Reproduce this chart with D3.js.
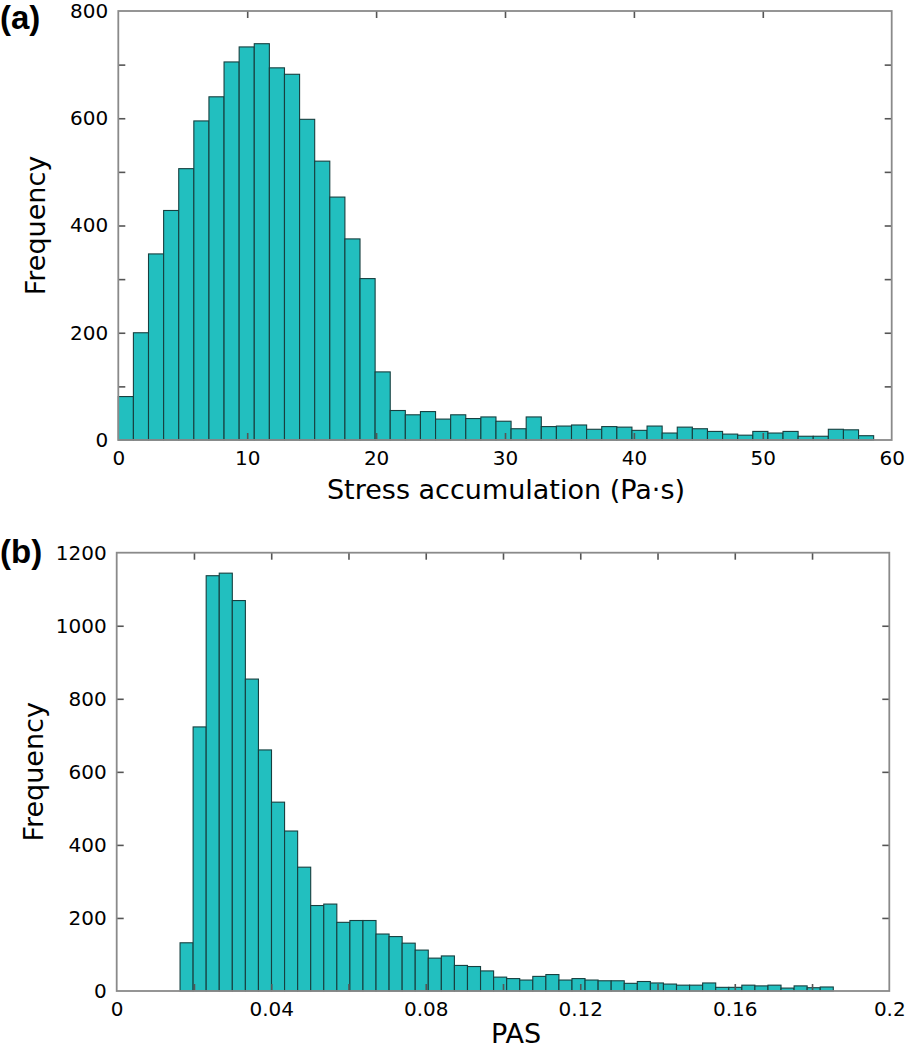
<!DOCTYPE html>
<html>
<head>
<meta charset="utf-8">
<script src="https://cdn.jsdelivr.net/npm/d3@7/dist/d3.min.js"></script>
<style>
  html, body { margin: 0; padding: 0; background: #fff; }
  svg { display: block; }
  .tick text { font-family: "DejaVu Sans", Verdana, sans-serif; }
</style>
</head>
<body>
<svg id="chart" width="907" height="1050"></svg>
<script>
// ---- Panel (a): stress accumulation histogram ----
const stressBinStart = 0;
const stressBinWidth = 1.172;
const stressCounts = [81,200,347,428,506,595,640,705,733,739,
  694,682,598,520,453,375,301,127,55,47,
  53,39,47,40,43,35,21,43,25,26,
  28,20,25,24,18,26,13,24,21,16,
  11,9,16,13,16,7,7,20,19,8];
const stressXTicks = [0,10,20,30,40,50,60];
const stressYTicks = [0,100,200,300,400,500,600,700,800];
const stressYLabels = [0,200,400,600,800];

// ---- Panel (b): PAS histogram ----
const pasBinStart = 0.0164;
const pasBinWidth = 0.003382;
const pasCounts = [132,723,1137,1144,1069,854,660,517,438,339,
  234,238,188,193,193,156,149,131,112,90,
  96,70,67,55,38,34,30,40,45,30,
  34,30,28,28,21,26,22,19,16,16,
  22,10,10,16,14,16,8,14,9,11];
const pasXTicks = [0,0.02,0.04,0.06,0.08,0.1,0.12,0.14,0.16,0.18,0.2];
const pasXLabels = [0,0.04,0.08,0.12,0.16,0.2];
const pasYTicks = [0,200,400,600,800,1000,1200];

const svg = d3.select("#chart");
const FONT = "'DejaVu Sans', Verdana, sans-serif";
const BAR_FILL = "#22bfbf";
const BAR_STROKE = "#173f3f";
const FRAME = "#8a8a8a";
const TICKC = "#555";

function panel(cfg) {
  const g = svg.append("g");
  const x = d3.scaleLinear().domain(cfg.xDomain).range([cfg.left, cfg.right]);
  const y = d3.scaleLinear().domain(cfg.yDomain).range([cfg.bottom, cfg.top]);

  // bars
  g.append("g").selectAll("rect")
    .data(cfg.counts)
    .join("rect")
    .attr("x", (d, i) => x(cfg.binStart + i * cfg.binWidth))
    .attr("width", (d, i) => x(cfg.binStart + (i + 1) * cfg.binWidth) - x(cfg.binStart + i * cfg.binWidth))
    .attr("y", d => y(d))
    .attr("height", d => y(0) - y(d))
    .attr("fill", BAR_FILL)
    .attr("stroke", BAR_STROKE)
    .attr("stroke-width", 1.1);

  const isLabX = v => cfg.xLabels.some(l => Math.abs(l - v) < 1e-9);
  const isLabY = v => cfg.yLabels.some(l => Math.abs(l - v) < 1e-9);
  const tickLen = 7;

  // bottom axis (inward ticks + labels)
  const xb = g.append("g").attr("transform", `translate(0,${cfg.bottom})`)
    .call(d3.axisBottom(x).tickValues(cfg.xTicks).tickSizeInner(-tickLen).tickSizeOuter(0)
      .tickPadding(11).tickFormat(d => isLabX(d) ? cfg.xFmt(d) : ""));
  // top axis
  const xt = g.append("g").attr("transform", `translate(0,${cfg.top})`)
    .call(d3.axisTop(x).tickValues(cfg.xTicks).tickSizeInner(-tickLen).tickSizeOuter(0).tickFormat(""));
  // left axis
  const yl = g.append("g").attr("transform", `translate(${cfg.left},0)`)
    .call(d3.axisLeft(y).tickValues(cfg.yTicks).tickSizeInner(-tickLen).tickSizeOuter(0)
      .tickPadding(10).tickFormat(d => isLabY(d) ? d3.format("d")(d) : ""));
  // right axis
  const yr = g.append("g").attr("transform", `translate(${cfg.right},0)`)
    .call(d3.axisRight(y).tickValues(cfg.yTicks).tickSizeInner(-tickLen).tickSizeOuter(0).tickFormat(""));

  [xb, xt, yl, yr].forEach(a => {
    a.select(".domain").remove();
    a.selectAll(".tick line").attr("stroke", TICKC).attr("stroke-width", 1.6);
    a.selectAll(".tick text").attr("font-size", 20).attr("fill", "#000").attr("font-family", FONT);
  });
  // hide ticks at the frame corners
  [xb, xt].forEach(a => a.selectAll(".tick").filter(d => d === cfg.xDomain[0] || d === cfg.xDomain[1]).select("line").remove());
  [yl, yr].forEach(a => a.selectAll(".tick").filter(d => d === cfg.yDomain[0] || d === cfg.yDomain[1]).select("line").remove());

  // frame
  g.append("rect")
    .attr("x", cfg.left).attr("y", cfg.top)
    .attr("width", cfg.right - cfg.left).attr("height", cfg.bottom - cfg.top)
    .attr("fill", "none").attr("stroke", FRAME).attr("stroke-width", 1.8);

  // x label
  g.append("text")
    .attr("x", cfg.xLabelX).attr("y", cfg.xLabelY)
    .attr("text-anchor", "middle")
    .attr("font-family", FONT).attr("font-size", 27)
    .attr("fill", "#000")
    .text(cfg.xLabel);
  // y label
  g.append("text")
    .attr("transform", `translate(${cfg.yLabelX},${(cfg.top + cfg.bottom) / 2}) rotate(-90)`)
    .attr("text-anchor", "middle")
    .attr("font-family", FONT).attr("font-size", 27)
    .attr("fill", "#000")
    .text("Frequency");
  // panel letter
  g.append("text")
    .attr("x", 0).attr("y", cfg.letterY)
    .attr("font-family", "'Liberation Sans', Arial, sans-serif")
    .attr("font-weight", "bold").attr("font-size", 33)
    .attr("fill", "#000")
    .text(cfg.letter);
}

panel({
  left: 118.3, right: 891.7, top: 11, bottom: 440,
  xDomain: [0, 60], yDomain: [0, 800],
  counts: stressCounts, binStart: stressBinStart, binWidth: stressBinWidth,
  xTicks: stressXTicks, xLabels: stressXTicks, xFmt: d3.format("d"),
  yTicks: stressYTicks, yLabels: stressYLabels,
  xLabel: "Stress accumulation (Pa·s)", xLabelX: 506, xLabelY: 499,
  yLabelX: 45, letter: "(a)", letterY: 29
});

panel({
  left: 116.7, right: 889.3, top: 552.7, bottom: 991,
  xDomain: [0, 0.2], yDomain: [0, 1200],
  counts: pasCounts, binStart: pasBinStart, binWidth: pasBinWidth,
  xTicks: pasXTicks, xLabels: pasXLabels, xFmt: d => d === 0 ? "0" : d3.format("~g")(d),
  yTicks: pasYTicks, yLabels: pasYTicks,
  xLabel: "PAS", xLabelX: 516, xLabelY: 1043,
  yLabelX: 43, letter: "(b)", letterY: 563
});
</script>
</body>
</html>
